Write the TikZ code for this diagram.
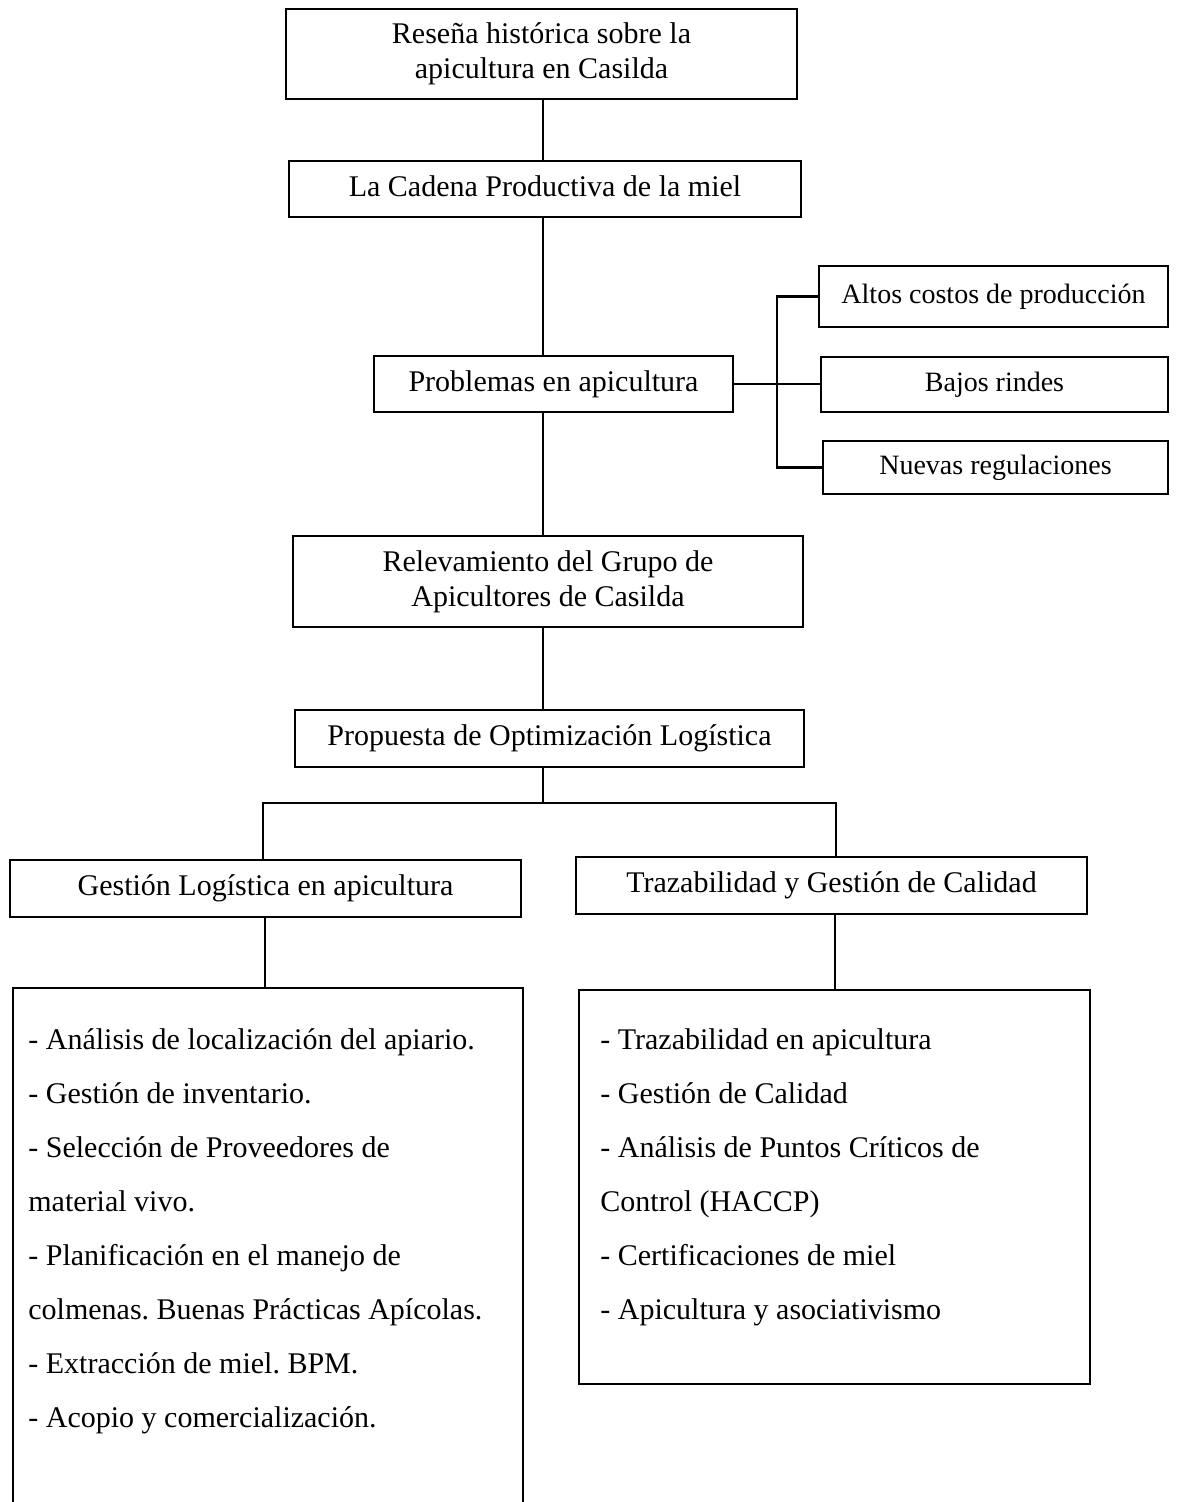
\documentclass[tikz,border=0pt]{standalone}
\usepackage{fontspec}
\setmainfont{Liberation Serif}
\frenchspacing
\begin{document}
\begin{tikzpicture}[x=0.5pt,y=-0.5pt,
  box/.style={draw,line width=1.1pt,inner sep=0pt,align=center,
    font=\fontsize{15}{17.5}\selectfont},
  one/.style={text height=10.5pt,text depth=3.2pt},
  sbox/.style={box,one,font=\fontsize{14}{16}\selectfont},
  listbox/.style={draw,line width=1.1pt,inner sep=0pt},
  listtext/.style={inner sep=0pt,anchor=north west,align=left,
    font=\fontsize{15}{27}\selectfont},
  conn/.style={line width=1.1pt}]
\useasboundingbox (0,0) rectangle (1179,1502);
\fill[white] (0,0) rectangle (1179,1502);

\node[box,minimum width=255.5pt,minimum height=45pt] (res) at (541.5,54)
  {Reseña histórica sobre la\\apicultura en Casilda};
\node[box,one,minimum width=256pt,minimum height=28pt] (cad) at (545,189)
  {La Cadena Productiva de la miel};
\node[box,one,minimum width=179.5pt,minimum height=28pt] (prob) at (553.5,384)
  {Problemas en apicultura};
\node[sbox,minimum width=174.5pt,minimum height=30.5pt] (altos) at (993.5,296.5)
  {Altos costos de producción};
\node[sbox,minimum width=173.5pt,minimum height=27.5pt] (bajos) at (994.5,384.5)
  {Bajos rindes};
\node[sbox,minimum width=172.5pt,minimum height=26.5pt] (nuevas) at (995.5,467.5)
  {Nuevas regulaciones};
\node[box,minimum width=255pt,minimum height=45.5pt] (rel) at (548,581.5)
  {Relevamiento del Grupo de\\Apicultores de Casilda};
\node[box,one,minimum width=254.5pt,minimum height=28.5pt] (prop) at (549.5,738.5)
  {Propuesta de Optimización Logística};
\node[box,one,minimum width=255.5pt,minimum height=28.5pt] (gest) at (265.5,888.5)
  {Gestión Logística en apicultura};
\node[box,one,minimum width=255.5pt,minimum height=28.5pt] (traz) at (831.5,885.5)
  {Trazabilidad y Gestión de Calidad};
\node[listbox,minimum width=255pt,minimum height=290pt] (lbox) at (268,1278) {};
\node[listbox,minimum width=255.5pt,minimum height=197pt] (rbox) at (834.5,1187) {};

\node[listtext] (ltext) at (28,1009) {\rule{0pt}{20pt}- Análisis de localización del apiario.\\
- Gestión de inventario.\\
- Selección de Proveedores de\\
material vivo.\\
- Planificación en el manejo de\\
colmenas. Buenas Prácticas Apícolas.\\
- Extracción de miel. BPM.\\
- Acopio y comercialización.};
\node[listtext] (rtext) at (600,1009) {\rule{0pt}{20pt}- Trazabilidad en apicultura\\
- Gestión de Calidad\\
- Análisis de Puntos Críticos de\\
Control (HACCP)\\
- Certificaciones de miel\\
- Apicultura y asociativismo};

\coordinate (sp) at (543,0);
\draw[conn] (res.south -| sp) -- (cad.north -| sp);
\draw[conn] (cad.south -| sp) -- (prob.north -| sp);
\draw[conn] (prob.south -| sp) -- (rel.north -| sp);
\draw[conn] (rel.south -| sp) -- (prop.north -| sp);

\coordinate (bx) at (777,0);
\draw[conn] (prob.east) -- (prob.east -| bajos.west);
\draw[conn] (altos.west) -- (altos.west -| bx) -- (nuevas.west -| bx) -- (nuevas.west);

\coordinate (jn) at (543,803);
\coordinate (jl) at (263,803);
\coordinate (jr) at (836,803);
\draw[conn] (prop.south -| jn) -- (jn);
\draw[conn] (gest.north -| jl) -- (jl) -- (jr) -- (traz.north -| jr);

\coordinate (gl) at (265,0);
\coordinate (gr) at (835,0);
\draw[conn] (gest.south -| gl) -- (lbox.north -| gl);
\draw[conn] (traz.south -| gr) -- (rbox.north -| gr);
\end{tikzpicture}
\end{document}
